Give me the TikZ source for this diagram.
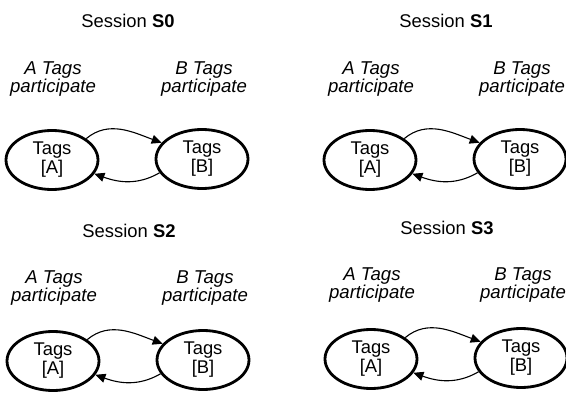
\documentclass[tikz,border=0pt]{standalone}
\usepackage{fontspec}
\setmainfont{Liberation Sans}
\usetikzlibrary{arrows.meta,shapes.geometric}
\begin{document}
\begin{tikzpicture}[x=1pt,y=-1pt,
  txt/.style={font=\fontsize{18.4}{19}\selectfont, inner sep=0pt, align=center},
  lbl/.style={font=\fontsize{18.6}{17.5}\selectfont\itshape, inner sep=0pt, align=center},
  tagnode/.style={draw, line width=2.8pt, ellipse, minimum width=92pt, minimum height=59pt, inner sep=0pt, align=center, font=\fontsize{18.4}{19}\selectfont},
  flow/.style={line width=1.1pt, -{Triangle[length=10pt,width=9pt]}}
]
\useasboundingbox (0,0) rectangle (566,399);
\foreach \i/\dx/\dy/\sy/\ly in {0/0/0/21/0, 1/318/0/21/0, 2/1/201/231/209, 3/319/199/228/206} {
  \node[txt] (S\i) at (128+\dx,\sy) {Session \textbf{S\i}};
  \node[lbl] (LA\i) at (53+\dx,79+\ly) {A Tags\\ participate};
  \node[lbl] (LB\i) at (204+\dx,79+\ly) {B Tags\\ participate};
  \node[tagnode] (A\i) at (52+\dx,160+\dy) {Tags\\ {[A]}};
  \node[tagnode] (B\i) at (202+\dx,159+\dy) {Tags\\ {[B]}};
  \draw[flow] (A\i.32) to[out=40,in=160] (B\i.158);
  \draw[flow] (B\i.198) to[out=-150,in=-20] (A\i.-18);
}
\end{tikzpicture}
\end{document}
